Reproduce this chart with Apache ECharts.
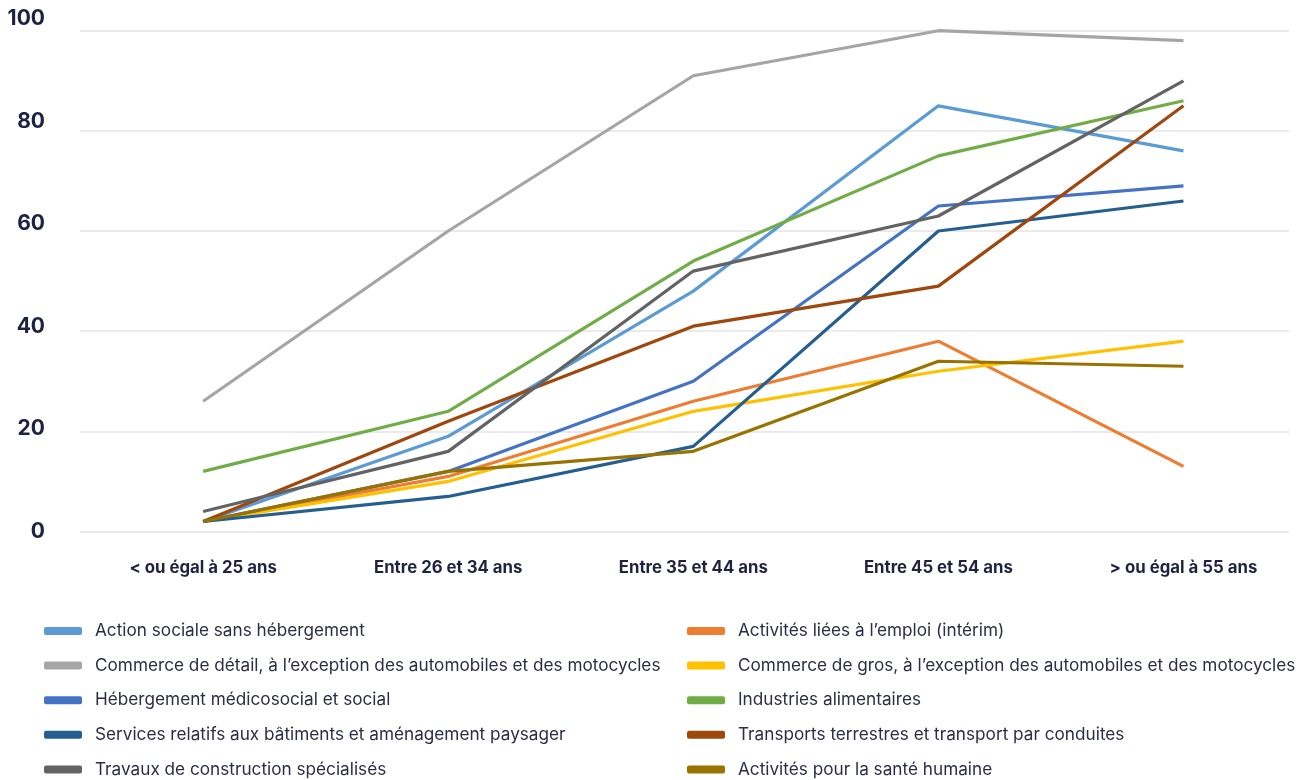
<!DOCTYPE html>
<html>
<head>
<meta charset="utf-8">
<script src="https://cdn.jsdelivr.net/npm/echarts@6/dist/echarts.min.js"></script>
<style>
html,body{margin:0;padding:0;background:#fff;}
#chart{width:1306px;height:780px;}
</style>
</head>
<body>
<div id="chart"></div>
<script>
const categories = ["< ou égal à 25 ans", "Entre 26 et 34 ans", "Entre 35 et 44 ans", "Entre 45 et 54 ans", "> ou égal à 55 ans"];
const yTicks = [0, 20, 40, 60, 80, 100];

const seriesNames = [
  "Action sociale sans hébergement",
  "Activités liées à l’emploi (intérim)",
  "Commerce de détail, à l’exception des automobiles et des motocycles",
  "Commerce de gros, à l’exception des automobiles et des motocycles",
  "Hébergement médicosocial et social",
  "Industries alimentaires",
  "Services relatifs aux bâtiments et aménagement paysager",
  "Transports terrestres et transport par conduites",
  "Travaux de construction spécialisés",
  "Activités pour la santé humaine"
];

const actionSociale = [2, 19, 48, 85, 76];
const activitesEmploi = [2, 11, 26, 38, 13];
const commerceDetail = [26, 60, 91, 100, 98];
const commerceGros = [2, 10, 24, 32, 38];
const hebergement = [2, 12, 30, 65, 69];
const industries = [12, 24, 54, 75, 86];
const servicesBatiments = [2, 7, 17, 60, 66];
const transports = [2, 22, 41, 49, 85];
const travaux = [4, 16, 52, 63, 90];
const sante = [2, 12, 16, 34, 33];

const seriesValues = [actionSociale, activitesEmploi, commerceDetail, commerceGros, hebergement, industries, servicesBatiments, transports, travaux, sante];
const colors = ["#5B9BD5", "#ED7D31", "#A5A5A5", "#FFC000", "#4472C4", "#70AD47", "#255E91", "#9E480E", "#636363", "#997300"];

const font = "Inter, 'Noto Sans', sans-serif";
const chart = echarts.init(document.getElementById('chart'));

const legendCommon = {
  orient: 'vertical',
  top: 622,
  height: 170,
  padding: 0,
  icon: 'roundRect',
  itemWidth: 38,
  itemHeight: 8,
  itemGap: 16.6,
  textStyle: { fontFamily: font, fontSize: 17.2, color: '#2b2e45', lineHeight: 18, padding: [0, 0, 0, 8] }
};

const yMin = yTicks[0], yMax = yTicks[yTicks.length - 1], yStep = yTicks[1] - yTicks[0];

chart.setOption({
  animation: false,
  color: colors,
  grid: [
    { left: 80, right: 17, top: 30.7, bottom: 248.5 },
    { left: 80.6, width: 1233.8, top: 30.7, bottom: 248.5 },
    { left: 80, right: 17, top: 19, bottom: 248.3 }
  ],
  legend: [
    Object.assign({}, legendCommon, { left: 44, data: [seriesNames[0], seriesNames[2], seriesNames[4], seriesNames[6], seriesNames[8]] }),
    Object.assign({}, legendCommon, { left: 687, data: [seriesNames[1], seriesNames[3], seriesNames[5], seriesNames[7], seriesNames[9]] })
  ],
  xAxis: [
    { type: 'category', gridIndex: 0, data: categories, show: false },
    {
      type: 'category', gridIndex: 1, data: categories, boundaryGap: true,
      axisLine: { show: false }, axisTick: { show: false },
      axisLabel: { fontFamily: font, fontSize: 16.8, fontWeight: 'bold', color: '#1f2340', margin: 28 }
    },
    { type: 'category', gridIndex: 2, data: categories, show: false }
  ],
  yAxis: [
    {
      type: 'value', gridIndex: 0, min: yMin, max: yMax, interval: yStep,
      axisLine: { show: false }, axisTick: { show: false }, axisLabel: { show: false },
      splitLine: { show: true, lineStyle: { color: '#e3e3e3', width: 1.5 } }
    },
    { type: 'value', gridIndex: 1, min: yMin, max: yMax, show: false, splitLine: { show: false } },
    {
      type: 'value', gridIndex: 2, min: yMin, max: yMax, interval: yStep,
      axisLine: { show: false }, axisTick: { show: false }, splitLine: { show: false },
      axisLabel: { fontFamily: font, fontSize: 21, fontWeight: 'bold', color: '#1d2240', margin: 35 }
    }
  ],
  series: seriesNames.map((name, i) => ({
    name: name,
    type: 'line',
    xAxisIndex: 1,
    yAxisIndex: 1,
    data: seriesValues[i],
    symbol: 'none',
    lineStyle: { width: 3.2, color: colors[i] },
    itemStyle: { color: colors[i] },
    z: 2 + i
  }))
});
</script>
</body>
</html>
